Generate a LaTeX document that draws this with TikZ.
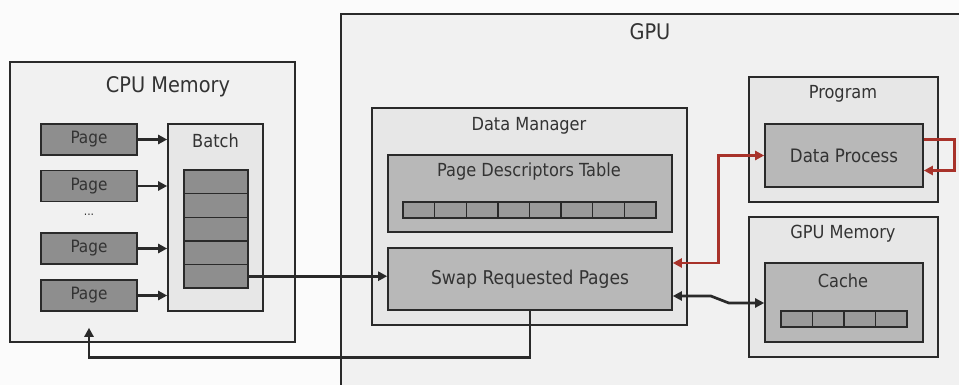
\documentclass[tikz,border=0pt]{standalone}
\usepackage{fontspec}
\setmainfont{DejaVu Sans Condensed}
\usetikzlibrary{arrows.meta}
\definecolor{ink}{HTML}{2A2A2A}
\definecolor{txt}{HTML}{333333}
\definecolor{paper}{HTML}{FBFBFB}
\definecolor{outerfill}{HTML}{F1F1F1}
\definecolor{groupfill}{HTML}{E7E7E7}
\definecolor{innerfill}{HTML}{B8B8B8}
\definecolor{pagefill}{HTML}{8E8E8E}
\definecolor{cellfill}{HTML}{9A9A9A}
\definecolor{loopred}{HTML}{A8322A}
\tikzset{
  box/.style={draw=ink, line width=1.6pt, rectangle, inner sep=0pt},
  outerbox/.style={box, fill=outerfill},
  groupbox/.style={box, fill=groupfill},
  innerbox/.style={box, fill=innerfill},
  pagebox/.style={box, fill=pagefill, minimum width=96pt, minimum height=31pt, font=\fontsize{17}{20}\selectfont, text=txt},
  cell/.style={box, fill=cellfill, line width=1.4pt},
  label/.style={text=txt, inner sep=0pt},
  big/.style={label, font=\fontsize{21.5}{25}\selectfont},
  mid/.style={label, font=\fontsize{18}{21}\selectfont},
  flow/.style={draw=ink, line width=2.7pt, -{Triangle[length=9pt,width=9pt]}},
  flowboth/.style={draw=ink, line width=2.7pt, {Triangle[length=9pt,width=9pt]}-{Triangle[length=9pt,width=9pt]}},
  redflow/.style={draw=loopred, line width=2.9pt, -{Triangle[length=9pt,width=9pt]}},
  redboth/.style={draw=loopred, line width=2.9pt, {Triangle[length=9pt,width=9pt]}-{Triangle[length=9pt,width=9pt]}},
}
\begin{document}
\begin{tikzpicture}[x=1pt,y=-1pt]
  % canvas
  \fill[paper] (0,0) rectangle (959,385);
  \useasboundingbox (0,0) rectangle (959,385);
  \clip (0,0) rectangle (959,385);

  % GPU area (runs off the right and bottom edges)
  \fill[outerfill] (341,14) rectangle (980,400);
  \draw[ink, line width=1.6pt] (341,400) -- (341,14) -- (980,14);
  \node[big] (gpulabel) at (650,32) {GPU};

  % CPU memory
  \node[outerbox, minimum width=285pt, minimum height=280pt] (cpu) at (152.5,202) {};
  \node[big] (cpulabel) at (168,87) {CPU Memory};

  \node[pagebox] (p1) at (89,139.5) {Page};
  \node[pagebox] (p2) at (89,186) {Page};
  \node[label, font=\fontsize{12}{14}\selectfont] (dots) at (89,215) {...};
  \node[pagebox] (p3) at (89,248.5) {Page};
  \node[pagebox] (p4) at (89,295.5) {Page};

  \node[groupbox, minimum width=95pt, minimum height=187pt] (batch) at (215.5,217.5) {};
  \node[mid] (batchlabel) at (215.5,141) {Batch};
  \foreach \i in {1,...,5} {
    \node[cell, fill=pagefill, minimum width=64pt, minimum height=23.6pt]
      (b\i) at (216,{170+(\i-0.5)*23.6}) {};
  }
  \foreach \p in {p1,p2,p3,p4} {
    \draw[flow] (\p.east) -- (batch.west |- \p.east);
  }

  % Data manager
  \node[groupbox, minimum width=315pt, minimum height=217pt] (dm) at (529.5,216.5) {};
  \node[mid] (dmlabel) at (529,126) {Data Manager};
  \node[innerbox, minimum width=284pt, minimum height=77pt] (pdt) at (530,193.5) {};
  \node[mid] (pdtlabel) at (529,172) {Page Descriptors Table};
  \foreach \i in {1,...,8} {
    \node[cell, minimum width=31.6pt, minimum height=16pt]
      (d\i) at ({403+(\i-0.5)*31.6},210) {};
  }
  \node[innerbox, minimum width=284pt, minimum height=62pt, font=\fontsize{19}{22}\selectfont, text=txt] (swap) at (530,279) {Swap Requested Pages};

  % Program
  \node[groupbox, minimum width=189pt, minimum height=125pt] (prog) at (843.5,139.5) {};
  \node[mid] (proglabel) at (843,94) {Program};
  \node[innerbox, minimum width=158pt, minimum height=63pt, font=\fontsize{18.5}{21}\selectfont, text=txt] (dp) at (844,155.5) {Data Process};

  % GPU memory
  \node[groupbox, minimum width=189pt, minimum height=140pt] (gmem) at (843.5,287) {};
  \node[mid] (gmemlabel) at (843,234) {GPU Memory};
  \node[innerbox, minimum width=158pt, minimum height=79pt] (cache) at (844,302.5) {};
  \node[mid] (cachelabel) at (843,281) {Cache};
  \foreach \i in {1,...,4} {
    \node[cell, minimum width=31.5pt, minimum height=16pt]
      (c\i) at ({781+(\i-0.5)*31.5},319) {};
  }

  % connectors
  \draw[flow] (b5.east) -- (swap.west |- b5.east);
  \draw[flow, shorten >=16pt] (swap.south) -- ++(0,47) -| (p4.south);
  \draw[redboth] ([yshift=16pt]swap.east) -- ++(46,0) |- (dp.west);
  \draw[redflow] ([yshift=16pt]dp.east) -- ++(31,0) -- ++(0,31) -- ([yshift=-15pt]dp.east);
  \draw[flowboth] ([yshift=-17pt]swap.east) -- ++(38,0) -- ++(18,7) -- (cache.west |- 0,303);
\end{tikzpicture}
\end{document}
